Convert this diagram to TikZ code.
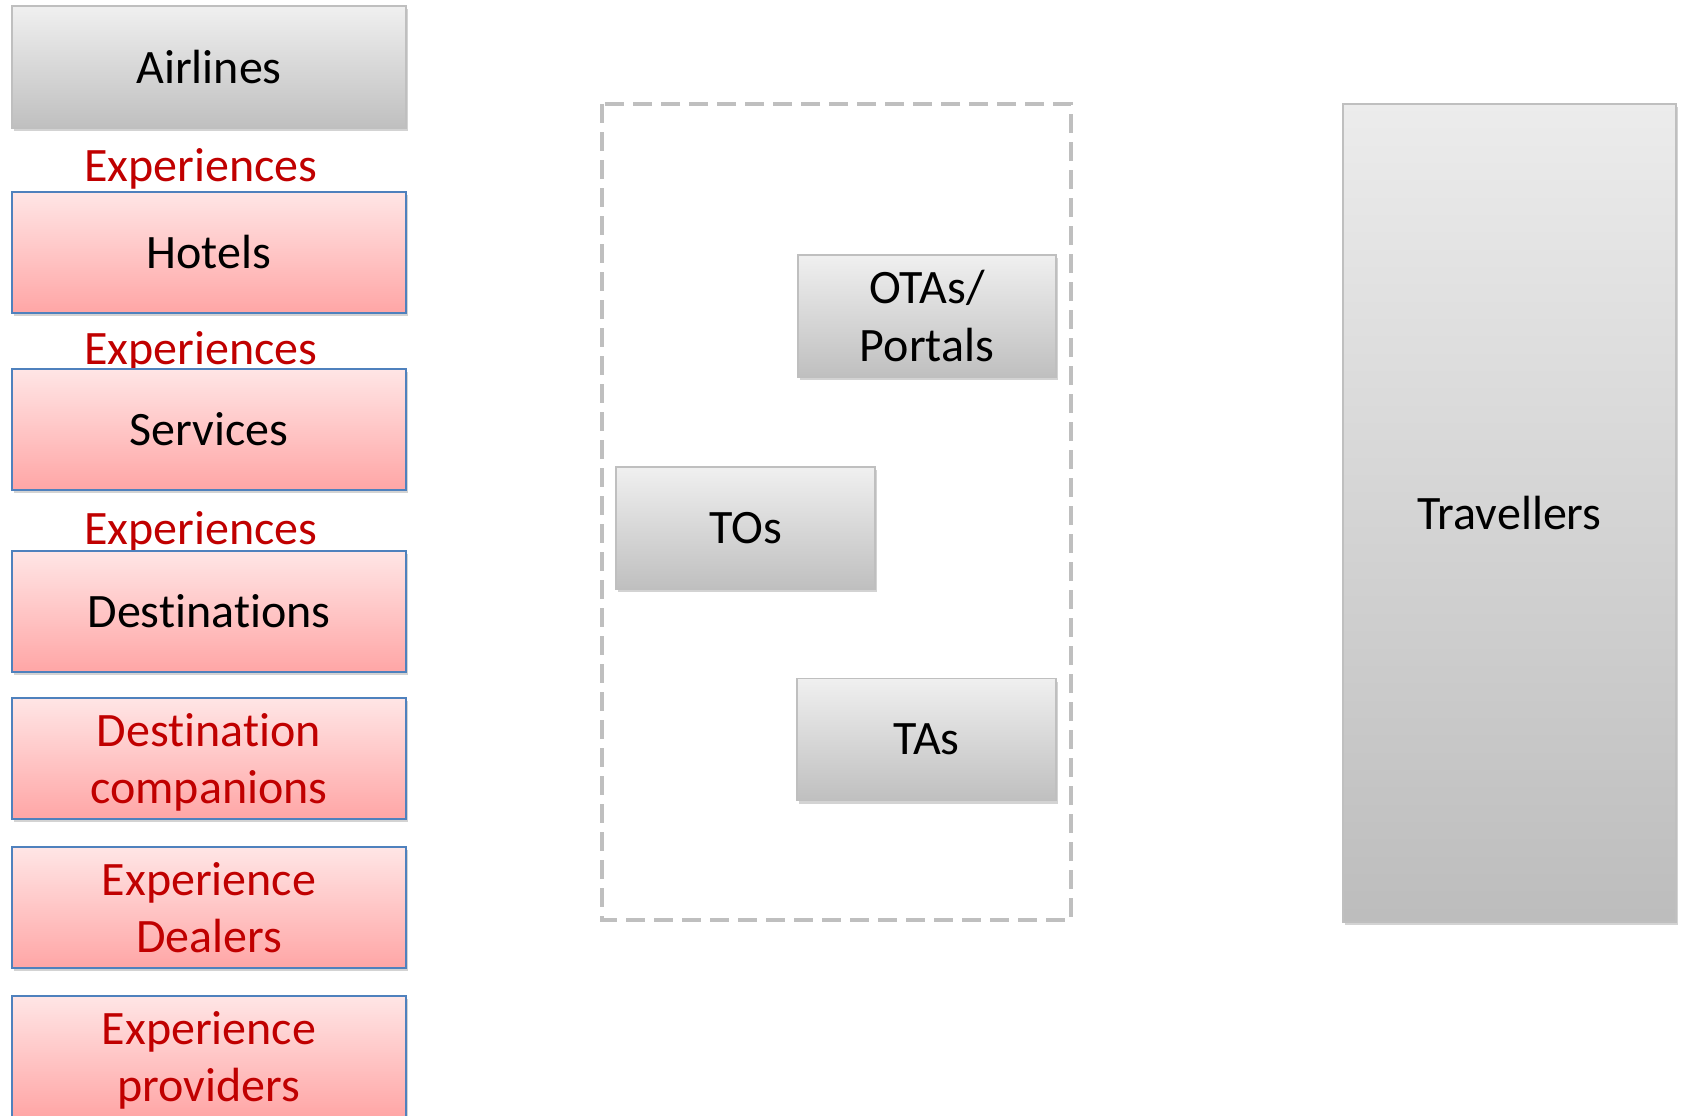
\documentclass[tikz,border=0pt]{standalone}
\usepackage{fontspec}
\setmainfont[Ligatures=NoCommon]{Carlito}
\usetikzlibrary{shadows}

\definecolor{expred}{HTML}{C00000}
\definecolor{boxblue}{HTML}{4F81BD}
\definecolor{boxgray}{HTML}{BFBFBF}

\tikzset{
    graybox/.style={draw=boxgray, line width=0.8pt, top color=gray!12, bottom color=gray!50,
        minimum height=61pt, align=center, inner sep=0pt,
        drop shadow={shadow xshift=0.8pt, shadow yshift=-1.6pt, opacity=0.35}},
    pinkbox/.style={draw=boxblue, line width=0.8pt, top color=red!10, bottom color=red!35,
        minimum width=197pt, minimum height=60.5pt, align=center, inner sep=0pt,
        drop shadow={shadow xshift=0.8pt, shadow yshift=-1.6pt, opacity=0.35}},
    explabel/.style={text=expred, inner sep=0pt}
}

\begin{document}
\begin{tikzpicture}[x=0.5pt, y=-0.5pt, font=\fontsize{24}{28.8}\selectfont]
    \useasboundingbox (0,0) rectangle (1683,1115);
    % Left column: suppliers
    \node[graybox, minimum width=197pt] (airlines) at (209,67) {Airlines};
    \node[explabel] (exp1) at (201,169) {Experiences};
    \node[pinkbox] (hotels) at (209,252.5) {Hotels};
    \node[explabel] (exp2) at (201,352) {Experiences};
    \node[pinkbox] (services) at (209,429.5) {Services};
    \node[explabel] (exp3) at (201,532) {Experiences};
    \node[pinkbox] (destinations) at (209,611.5) {Destinations};
    \node[pinkbox, text=expred] (companions) at (209,758.5) {Destination\\\smash{companions}};
    \node[pinkbox, text=expred] (dealers) at (209,907.5) {Experience\\Dealers};
    \node[pinkbox, text=expred] (providers) at (209,1056.5) {Experience\\\smash{providers}};
    % Middle: intermediaries
    \draw[boxgray, line width=1.8pt, dash pattern=on 9.5pt off 4.5pt] (602,104) rectangle (1071,920);
    \node[graybox, minimum width=129pt] (otas) at (927,316) {OTAs/\\Portals};
    \node[graybox, minimum width=129.5pt] (tos) at (745.5,528) {TOs};
    \node[graybox, minimum width=129.5pt] (tas) at (926.5,739.5) {TAs};
    % Right: customers
    \node[graybox, minimum width=166.5pt, minimum height=409pt, top color=gray!15, bottom color=gray!52] (travellers) at (1509.5,513) {Travellers};
\end{tikzpicture}
\end{document}
